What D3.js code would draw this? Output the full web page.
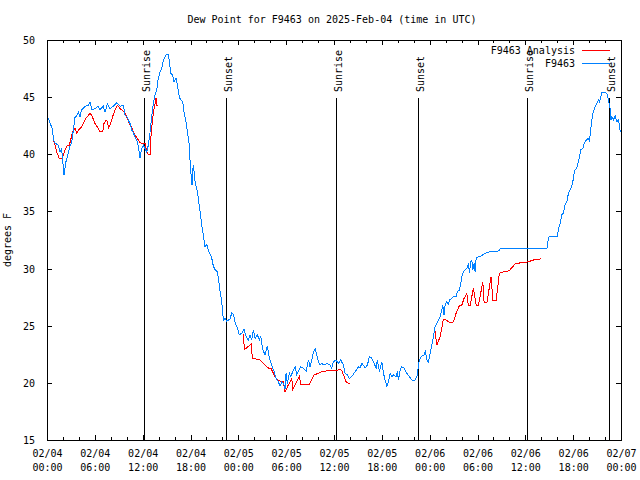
<!DOCTYPE html>
<html><head><meta charset="utf-8">
<script src="https://cdn.jsdelivr.net/npm/d3@7"></script>
<style>
body{margin:0;background:#fff}
text{font-family:"DejaVu Sans Mono","Liberation Mono",monospace;font-size:10px;fill:#000}
</style>
</head><body>
<svg id="chart" width="640" height="480"></svg>
<script>
// ---------------- data ----------------
const titleText = "Dew Point for F9463 on 2025-Feb-04 (time in UTC)";
const yAxisLabel = "degrees F";
const seriesNames = ["F9463 Analysis", "F9463"];
const xTickHours = [0, 6, 12, 18, 24, 30, 36, 42, 48, 54, 60, 66, 72];
const xTickDates = ["02/04","02/04","02/04","02/04","02/05","02/05","02/05","02/05","02/06","02/06","02/06","02/06","02/07"];
const xTickTimes = ["00:00","06:00","12:00","18:00","00:00","06:00","12:00","18:00","00:00","06:00","12:00","18:00","00:00"];
const xMinorHours = d3.range(0, 73, 2);
const yTicks = [15, 20, 25, 30, 35, 40, 45, 50];
const sunLabels = ["Sunrise", "Sunset", "Sunrise", "Sunset", "Sunrise", "Sunset"];
const sunHours = [12.2, 22.47, 36.26, 46.55, 60.23, 70.52];

// hours since 02/04 00:00 UTC, dew point (F)
const obsF9463 = [
[0.13,43.2],[0.46,42.6],[0.72,42.1],[0.79,41.25],[1.0,41.0],[1.42,40.8],[1.63,40.2],[1.84,40.5],[2.05,38.8],[2.13,38.2],
[2.38,39.35],[2.67,40.1],[2.89,40.7],[3.10,41.0],[3.30,42.1],[3.51,43.2],[3.73,43.4],[3.93,43.7],[4.14,43.3],[4.35,43.9],
[4.77,44.2],[5.18,44.3],[5.40,44.6],[5.61,43.9],[6.02,44.0],[6.44,44.2],[6.65,43.9],[7.06,44.2],[7.28,43.7],[7.57,44.4],
[7.90,44.0],[8.32,44.2],[8.75,44.5],[9.16,44.2],[9.57,44.3],[9.79,43.4],[10.0,43.3],[10.41,42.7],[10.63,42.1],[10.83,41.9],
[11.04,41.5],[11.25,41.25],[11.46,40.7],[11.67,39.7],[11.88,40.5],[12.08,40.8],[12.30,40.5],[12.51,40.2],[12.71,40.8],[12.92,41.9],
[13.14,43.3],[13.34,44.5],[13.55,45.2],[13.76,45.6],[13.96,46.65],[14.18,47.2],[14.39,47.5],[14.59,48.25],[14.93,48.7],[15.22,48.7],
[15.35,48.1],[15.52,47.1],[15.77,46.9],[15.93,46.35],[16.19,46.65],[16.35,46.1],[16.60,45.0],[16.78,44.75],[17.03,44.6],[17.19,43.7],
[17.44,42.85],[17.60,42.0],[17.73,41.4],[17.85,40.8],[17.94,39.5],[18.07,38.2],[18.19,37.3],[18.28,38.5],[18.36,39.1],[18.57,37.6],
[18.78,37.0],[18.98,36.15],[19.20,35.0],[19.41,33.8],[19.61,32.9],[19.82,31.9],[20.04,32.1],[20.24,31.6],[20.45,31.3],[20.67,30.9],
[20.87,30.2],[21.08,29.9],[21.37,29.7],[21.49,29.15],[21.71,28.0],[21.92,27.1],[22.12,25.5],[22.33,25.65],[22.55,25.4],[22.96,25.6],
[23.17,26.1],[23.38,26.0],[23.59,25.3],[23.88,24.8],[24.13,24.2],[24.43,24.35],[24.72,24.7],[24.97,24.05],[25.26,23.75],[25.47,24.2],
[25.68,23.75],[25.88,24.6],[26.10,23.9],[26.39,24.2],[26.64,23.75],[26.81,24.05],[27.06,22.9],[27.35,22.45],[27.64,23.2],[27.89,22.15],
[28.19,21.55],[28.48,21.0],[28.73,20.4],[29.02,20.1],[29.23,19.7],[29.45,20.1],[29.65,19.95],[29.86,19.5],[29.99,20.85],[30.15,19.95],
[30.40,20.85],[30.58,20.55],[30.83,21.0],[31.12,21.4],[31.33,20.7],[31.53,21.0],[31.83,21.4],[32.16,21.3],[32.50,21.0],[32.79,22.0],
[33.0,21.4],[33.21,22.0],[33.41,22.7],[33.63,23.0],[33.84,22.45],[34.04,21.85],[34.25,21.55],[34.47,21.7],[34.76,21.55],[35.09,21.7],
[35.51,21.55],[35.72,21.3],[35.92,21.85],[36.26,22.0],[36.55,21.7],[36.85,22.0],[37.18,21.55],[37.39,20.85],[37.68,20.7],[37.93,20.4],
[38.23,20.55],[38.52,20.85],[38.77,21.1],[39.06,21.4],[39.27,21.3],[39.49,21.7],[39.69,21.55],[39.90,21.3],[40.19,21.55],[40.44,22.3],
[40.74,22.15],[41.03,21.7],[41.28,21.3],[41.44,22.0],[41.69,21.0],[42.0,21.85],[42.20,20.85],[42.41,20.25],[42.62,19.7],[42.82,20.1],
[43.04,20.85],[43.25,20.55],[43.45,20.7],[43.79,20.55],[43.95,21.0],[44.08,20.25],[44.29,21.1],[44.50,21.4],[44.79,21.3],[45.13,20.85],
[45.46,20.55],[45.76,20.25],[46.17,20.25],[46.46,20.7],[46.59,21.55],[46.71,22.0],[47.01,22.35],[47.30,22.45],[47.47,22.75],[47.64,22.0],
[47.84,21.85],[48.06,22.6],[48.27,23.3],[48.47,24.05],[48.68,24.9],[48.90,25.2],[49.10,25.5],[49.31,25.75],[49.52,26.4],[49.65,26.8],
[49.81,25.9],[49.94,26.8],[50.15,27.1],[50.35,26.9],[50.48,27.25],[50.78,27.4],[50.98,27.55],[51.32,27.55],[51.48,28.0],[51.73,28.1],
[51.91,28.7],[52.03,29.3],[52.23,29.7],[52.45,29.9],[52.66,30.0],[52.86,30.45],[52.99,29.6],[53.16,30.6],[53.29,30.75],[53.41,29.9],
[53.58,30.45],[53.70,29.7],[53.83,30.9],[54.12,31.05],[54.42,31.1],[54.67,31.2],[54.96,31.35],[55.37,31.4],[55.58,31.5],[56.21,31.5],
[56.75,31.55],[56.84,31.75],[58.09,31.75],[62.70,31.75],[62.90,32.65],[63.02,32.8],[64.03,32.8],[64.15,33.5],[64.37,33.95],[64.58,34.7],
[64.78,34.85],[64.99,35.6],[65.21,35.85],[65.41,36.6],[65.62,36.9],[65.83,37.2],[66.04,37.9],[66.16,38.6],[66.46,38.8],[66.66,39.35],
[66.79,39.8],[66.96,40.4],[67.21,40.5],[67.38,40.95],[67.50,41.1],[67.72,41.3],[67.92,41.4],[68.04,41.1],[68.22,42.3],[68.34,43.0],
[68.47,43.6],[68.63,43.9],[68.76,44.2],[68.97,44.45],[69.17,44.75],[69.30,44.6],[69.47,45.05],[69.60,45.4],[70.01,45.4],[70.23,45.3],
[70.43,44.75],[70.64,44.0],[70.73,43.0],[70.85,43.3],[71.05,43.0],[71.27,43.4],[71.48,42.85],[71.68,43.0],[71.89,42.1],[72.0,41.95]
];

// analysis series (null value = gap)
const analysisF9463 = [
[0.72,41.3],[0.79,41.25],[1.0,40.8],[1.22,40.2],[1.54,39.65],[1.84,39.6],[2.05,39.95],[2.26,40.4],[2.47,40.7],[2.80,40.8],
[2.97,41.25],[3.22,42.0],[3.51,42.3],[3.73,41.85],[3.93,42.1],[4.23,42.3],[4.55,42.7],[4.89,43.15],[5.18,43.4],[5.40,43.6],
[5.61,43.4],[6.02,42.7],[6.31,42.4],[6.65,42.0],[6.99,42.0],[7.15,42.7],[7.40,43.0],[7.57,42.85],[7.74,42.3],[7.99,42.7],
[8.24,43.3],[8.53,43.9],[8.82,44.3],[9.16,44.0],[9.50,43.8],[9.79,43.6],[10.08,43.15],[10.33,42.7],[10.63,42.3],[10.92,41.85],
[11.17,41.55],[11.46,41.25],[11.67,41.0],[12.01,40.95],[12.30,40.95],[12.51,40.2],[12.71,39.95],[12.92,39.95],[13.01,41.25],[13.14,42.4],
[13.34,43.6],[13.55,44.45],[13.68,44.9],[13.76,44.3],[13.96,44.3],
[18.0,null],
[24.63,24.3],[24.76,22.9],[25.60,23.4],[25.76,22.15],[26.73,22.0],[27.35,21.55],[27.77,21.3],[28.07,21.3],[28.39,20.85],[28.61,20.5],
[28.90,20.25],[29.15,20.2],[29.45,20.1],[29.65,20.1],[29.86,19.2],[30.15,19.65],[30.70,20.4],[30.83,19.45],[31.33,20.1],[31.66,20.6],
[31.83,19.9],[32.16,19.9],[32.91,19.9],[33.21,20.25],[33.50,20.7],[33.91,20.8],[34.25,20.9],[34.59,21.0],[35.09,21.05],[35.72,21.1],
[36.35,21.1],[36.76,21.15],[36.97,21.1],[37.18,20.7],[37.52,20.1],[37.80,19.95],[38.02,19.95],
[43.0,null],
[48.68,24.5],[48.90,23.3],[49.31,24.05],[49.52,24.8],[49.72,25.55],[50.06,25.5],[50.35,25.35],[50.65,25.25],[50.98,25.35],[51.32,26.1],
[51.73,26.75],[52.03,26.8],[52.32,27.4],[52.66,27.8],[52.86,26.75],[53.07,26.75],[53.49,28.3],[53.83,26.8],[54.12,26.8],[54.67,28.85],
[54.83,27.0],[55.17,27.0],[55.71,29.3],[55.92,27.25],[56.34,27.25],[56.75,29.6],[57.25,29.7],[57.88,29.8],[58.09,29.9],[58.72,30.4],
[59.35,30.5],[59.97,30.55],[60.39,30.6],[61.02,30.75],[61.64,30.8],[61.98,30.85]
];

const colors = {analysis: "#ff0000", obs: "#0080ff"};

// ---------------- layout ----------------
const W = 640, H = 480;
const L = 47, R = 621, T = 40, B = 440;
const svg = d3.select("#chart");
svg.append("rect").attr("width", W).attr("height", H).attr("fill", "#fff");

const x = d3.scaleLinear().domain([0, 72]).range([L, R]);
const y = d3.scaleLinear().domain([15, 50]).range([B, T]);

// title
svg.append("text").attr("x", 332).attr("y", 23).attr("text-anchor", "middle").text(titleText);

// y label
svg.append("text").attr("transform", "translate(11,240) rotate(-90)")
  .attr("text-anchor", "middle").text(yAxisLabel);

const crisp = g => g.attr("shape-rendering", "crispEdges");

// axes (ticks inward, mirrored)
function styleAxis(g) {
  g.select(".domain").remove();
  g.selectAll("line").attr("stroke", "#000").attr("shape-rendering", "crispEdges");
}
// bottom major with labels
const gB = svg.append("g").attr("transform", `translate(0,${B})`)
  .call(d3.axisBottom(x).tickValues(xTickHours).tickSizeInner(-5).tickSizeOuter(0).tickPadding(10)
    .tickFormat((d, i) => ""));
styleAxis(gB);
gB.selectAll(".tick text").remove();
gB.selectAll(".tick").append("text")
  .attr("text-anchor", "middle")
  .each(function(d, i) {
    const t = d3.select(this);
    t.append("tspan").attr("x", 0).attr("y", 17).text(xTickDates[i]);
    t.append("tspan").attr("x", 0).attr("y", 31).text(xTickTimes[i]);
  });
// bottom minor
const gBm = svg.append("g").attr("transform", `translate(0,${B})`)
  .call(d3.axisBottom(x).tickValues(xMinorHours.filter(h => h % 6 !== 0)).tickSizeInner(-3).tickSizeOuter(0).tickFormat(""));
styleAxis(gBm);
// top
const gT = svg.append("g").attr("transform", `translate(0,${T})`)
  .call(d3.axisTop(x).tickValues(xTickHours).tickSizeInner(-5).tickSizeOuter(0).tickFormat(""));
styleAxis(gT);
const gTm = svg.append("g").attr("transform", `translate(0,${T})`)
  .call(d3.axisTop(x).tickValues(xMinorHours.filter(h => h % 6 !== 0)).tickSizeInner(-3).tickSizeOuter(0).tickFormat(""));
styleAxis(gTm);
// left
const gL = svg.append("g").attr("transform", `translate(${L},0)`)
  .call(d3.axisLeft(y).tickValues(yTicks).tickSizeInner(-5).tickSizeOuter(0).tickPadding(12).tickFormat(d3.format("d")));
styleAxis(gL);
gL.selectAll("text").attr("font-family", null).attr("font-size", null).attr("dy", "0.35em");
// right
const gR = svg.append("g").attr("transform", `translate(${R},0)`)
  .call(d3.axisRight(y).tickValues(yTicks).tickSizeInner(-5).tickSizeOuter(0).tickFormat(""));
styleAxis(gR);
gB.selectAll("text").attr("font-family", null).attr("font-size", null);

// border
svg.append("rect").attr("x", L).attr("y", T).attr("width", R - L).attr("height", B - T)
  .attr("fill", "none").attr("stroke", "#000").call(crisp);

// sunrise / sunset lines
const sunG = svg.append("g");
sunHours.forEach((h, i) => {
  sunG.append("line").attr("x1", x(h)).attr("x2", x(h)).attr("y1", 98).attr("y2", B)
    .attr("stroke", "#000").call(crisp);
  sunG.append("text").attr("transform", `translate(${x(h) + 2},92) rotate(-90)`)
    .attr("text-anchor", "start").attr("dy", "0.35em").text(sunLabels[i]);
});

// data lines
const line = d3.line().defined(d => d[1] != null).x(d => x(d[0])).y(d => y(d[1]));
svg.append("path").datum(analysisF9463).attr("d", line)
  .attr("fill", "none").attr("stroke", colors.analysis).attr("stroke-width", 1).call(crisp);
svg.append("path").datum(obsF9463).attr("d", line)
  .attr("fill", "none").attr("stroke", colors.obs).attr("stroke-width", 1).call(crisp);

// legend
const leg = svg.append("g");
[[seriesNames[0], colors.analysis, 50], [seriesNames[1], colors.obs, 63]].forEach(([name, c, ly]) => {
  leg.append("text").attr("x", 575).attr("y", ly).attr("dy", "0.35em").attr("text-anchor", "end").text(name);
  leg.append("line").attr("x1", 582).attr("x2", 610).attr("y1", ly).attr("y2", ly)
    .attr("stroke", c).call(crisp);
});
</script>
</body></html>
